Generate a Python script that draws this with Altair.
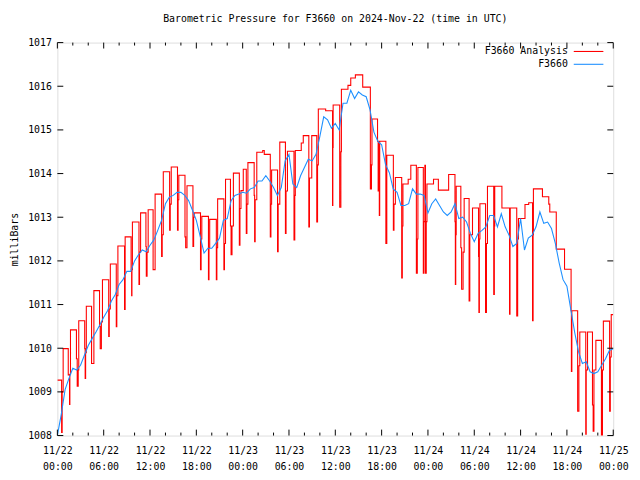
import altair as alt
import pandas as pd

# ---- data (hours since 2024-11-22 00:00 UTC, millibars) ----
red_t = [0, 0.55, 0.62, 0.75, 1.41, 1.58, 1.62, 1.70, 2.47, 2.57, 2.70, 2.77,
         3.54, 3.60, 3.66, 3.75, 4.43, 4.73, 5.46, 5.55, 5.70, 5.84, 6.65, 6.72,
         6.86, 7.63, 7.70, 7.84, 8.70, 8.78, 9.55, 9.62, 9.66, 9.72, 10.57, 10.64,
         10.78, 11.47, 11.52, 11.62, 11.76, 12.40, 12.66, 13.50, 13.58, 13.72, 14.54, 14.62,
         14.75, 15.56, 15.64, 15.73, 16.53, 16.62, 16.79, 17.56, 17.65, 17.73, 18.54, 18.62,
         18.71, 19.57, 19.64, 19.73, 20.59, 20.66, 20.76, 21.57, 21.64, 21.78, 22.42, 22.50,
         22.62, 22.80, 23.57, 23.65, 23.78, 24.08, 24.47, 24.55, 24.68, 25.49, 25.55, 25.62,
         25.83, 26.60, 26.80, 27.58, 27.66, 27.75, 28.52, 28.60, 28.81, 29.54, 29.62, 29.80,
         30.65, 30.75, 30.82, 31.59, 31.85, 32.57, 32.65, 32.95, 33.60, 33.70, 33.80, 34.75,
         35.64, 35.68, 35.72, 36.57, 36.72, 36.79, 37.64, 38.00, 38.60, 39.55, 40.54, 40.68,
         40.75, 41.47, 41.55, 41.60, 41.70, 41.75, 42.55, 42.67, 43.52, 43.60, 43.78, 44.60,
         44.68, 44.76, 45.44, 45.78, 46.50, 46.62, 46.70, 47.40, 47.48, 47.60, 47.68, 47.78,
         47.87, 48.72, 49.35, 50.68, 51.50, 51.55, 51.60, 51.66, 52.26, 52.36, 52.55, 52.69,
         53.33, 53.42, 53.77, 54.55, 54.60, 54.66, 54.73, 55.46, 55.58, 55.71, 56.52, 56.60,
         56.65, 57.58, 58.57, 58.63, 58.66, 59.50, 59.62, 59.72, 60.57, 61.05, 61.55, 61.62,
         61.66, 62.83, 63.65, 63.78, 64.62, 65.69, 66.54, 66.58, 66.64, 67.39, 67.55, 67.67,
         68.44, 68.50, 68.67, 69.31, 69.40, 69.50, 69.75, 70.47, 70.60, 70.72, 71.53, 71.62,
         71.74, 72.0]
red_v = [1009.27, 1008.07, 1009.00, 1009.99, 1009.39, 1008.71, 1009.40, 1010.42, 1009.76, 1009.13, 1009.50, 1010.63,
         1009.99, 1009.31, 1009.90, 1010.96, 1009.65, 1011.32, 1010.50, 1009.99, 1010.60, 1011.57, 1010.27, 1010.90,
         1011.93, 1010.49, 1011.20, 1012.34, 1010.89, 1012.55, 1011.80, 1011.20, 1011.80, 1012.89, 1011.46, 1012.20,
         1013.10, 1012.33, 1011.65, 1012.20, 1013.17, 1011.80, 1013.53, 1012.10, 1012.60, 1014.04, 1012.70, 1013.30,
         1014.15, 1012.70, 1013.40, 1013.96, 1012.55, 1012.30, 1013.72, 1012.33, 1013.00, 1013.10, 1011.80, 1012.50,
         1013.02, 1011.57, 1012.30, 1012.95, 1011.57, 1012.30, 1013.42, 1011.80, 1012.40, 1013.87, 1012.80, 1012.14,
         1012.80, 1014.01, 1012.36, 1013.20, 1013.61, 1014.10, 1012.63, 1013.30, 1014.25, 1013.50, 1012.44, 1013.40,
         1014.49, 1014.53, 1014.44, 1012.55, 1013.30, 1014.08, 1012.21, 1013.30, 1014.72, 1012.63, 1013.60, 1014.51,
         1012.48, 1013.50, 1014.53, 1014.70, 1014.87, 1012.78, 1013.90, 1014.87, 1012.89, 1014.20, 1015.48, 1015.44,
         1013.27, 1014.60, 1015.57, 1013.23, 1014.50, 1015.93, 1016.02, 1016.19, 1016.26, 1015.98, 1013.65, 1014.20,
         1015.25, 1014.74, 1013.60, 1014.74, 1013.04, 1014.74, 1012.40, 1014.42, 1012.70, 1013.30, 1013.91, 1011.61,
         1012.80, 1013.76, 1013.87, 1014.19, 1011.72, 1012.50, 1014.14, 1011.72, 1012.90, 1014.19, 1011.72, 1012.90,
         1013.76, 1013.87, 1013.62, 1013.98, 1012.90, 1011.46, 1012.60, 1013.71, 1012.30, 1011.35, 1012.20, 1013.43,
         1011.08, 1012.60, 1013.21, 1012.10, 1010.82, 1012.50, 1013.31, 1010.82, 1012.40, 1013.71, 1011.23, 1012.80,
         1013.71, 1013.21, 1010.78, 1012.50, 1013.21, 1010.74, 1012.50, 1012.97, 1013.29, 1013.33, 1010.63, 1012.60,
         1013.65, 1013.47, 1013.30, 1013.12, 1012.27, 1011.81, 1010.86, 1009.47, 1010.86, 1008.56, 1009.60, 1010.37,
         1008.03, 1009.50, 1010.37, 1008.70, 1008.10, 1009.50, 1010.18, 1008.00, 1009.50, 1010.62, 1008.56, 1009.80,
         1010.77, 1010.77]

# station observations, every half hour from 11/22 00:00 to 11/25 00:00
blue_v = [1008.00, 1008.48, 1009.05, 1009.31, 1009.54, 1009.50, 1009.61, 1009.84, 1010.06, 1010.22,
          1010.37, 1010.53, 1010.71, 1010.86, 1011.08, 1011.23, 1011.46, 1011.57, 1011.76, 1011.76,
          1012.00, 1012.14, 1012.25, 1012.21, 1012.36, 1012.48, 1012.70, 1012.93, 1013.31, 1013.46,
          1013.50, 1013.57, 1013.57, 1013.50, 1013.38, 1013.16, 1012.93, 1012.56, 1012.18, 1012.29,
          1012.29, 1012.40, 1012.52, 1012.93, 1012.97, 1013.38, 1013.50, 1013.53, 1013.57, 1013.55,
          1013.65, 1013.68, 1013.83, 1013.83, 1013.95, 1013.83, 1013.68, 1013.50, 1013.68, 1014.29,
          1014.44, 1013.76, 1013.68, 1013.95, 1014.14, 1014.33, 1014.29, 1014.44, 1014.85, 1015.30,
          1015.23, 1015.04, 1015.15, 1015.00, 1015.61, 1015.61, 1015.91, 1015.72, 1015.87, 1015.80,
          1015.76, 1015.46, 1014.95, 1014.74, 1014.66, 1014.21, 1014.02, 1013.65, 1013.57, 1013.27,
          1013.27, 1013.31, 1013.65, 1013.53, 1013.53, 1013.50, 1013.10, 1013.31, 1013.42, 1013.27,
          1013.12, 1013.04, 1013.12, 1013.31, 1012.97, 1013.00, 1012.89, 1012.63, 1012.44, 1012.63,
          1012.70, 1012.78, 1013.04, 1013.04, 1012.78, 1013.08, 1012.78, 1012.59, 1012.33, 1012.40,
          1012.97, 1012.25, 1012.52, 1012.59, 1012.78, 1013.12, 1012.86, 1012.89, 1012.74, 1012.40,
          1011.95, 1011.57, 1011.42, 1010.89, 1010.37, 1009.92, 1009.65, 1009.69, 1009.46, 1009.42,
          1009.46, 1009.61, 1009.76, 1009.95, 1009.99]
blue_t = [0.5 * i for i in range(len(blue_v))]

x_major = [0, 6, 12, 18, 24, 30, 36, 42, 48, 54, 60, 66, 72]
x_minor = [2, 4, 8, 10, 14, 16, 20, 22, 26, 28, 32, 34, 38, 40, 44, 46, 50, 52, 56, 58, 62, 64, 68, 70]
y_ticks = [1008, 1009, 1010, 1011, 1012, 1013, 1014, 1015, 1016, 1017]

series_names = ["F3660 Analysis", "F3660"]
series_colors = ["#ff0000", "#1e90ff"]

# ---- chart ----
FONT = "DejaVu Sans Mono"
W, H = 563, 398

red_df = pd.DataFrame({"h": red_t, "p": red_v})
blue_df = pd.DataFrame({"h": blue_t, "p": blue_v})

xs = alt.Scale(domain=[0, 72], nice=False, zero=False)
ys = alt.Scale(domain=[1008, 1017], nice=False, zero=False)

label_expr = ("['11/' + (22 + floor(datum.value / 24)), "
              "((datum.value % 24) < 10 ? '0' : '') + (datum.value % 24) + ':00']")

x_axis = alt.Axis(values=x_major, labelExpr=label_expr, title=None, ticks=False, domain=False,
                  grid=False, labelFont=FONT, labelFontSize=10, labelColor="black",
                  labelPadding=10, labelLineHeight=16, labelBaseline="top",
                  labelOverlap=False, labelFlush=False)
y_axis = alt.Axis(values=y_ticks, format="d", title="milliBars", ticks=False, domain=False,
                  grid=False, labelFont=FONT, labelFontSize=10, labelColor="black",
                  labelPadding=6, titleFont=FONT, titleFontSize=10, titleFontWeight="normal",
                  titleColor="black", titlePadding=8, labelOverlap=False, labelFlush=False)

XE = alt.X("h:Q", scale=xs, axis=x_axis)
YE = alt.Y("p:Q", scale=ys, axis=y_axis)

red_line = alt.Chart(red_df).mark_line(
    interpolate="step-after", color=series_colors[0], strokeWidth=1.1, clip=True
).encode(x=XE, y=YE)

blue_line = alt.Chart(blue_df).mark_line(
    color=series_colors[1], strokeWidth=1.1, clip=True
).encode(x=XE, y=YE)

xmaj_df = pd.DataFrame({"h": x_major})
xmin_df = pd.DataFrame({"h": x_minor})
y_df = pd.DataFrame({"p": y_ticks})

def xticks(df, length):
    bottom = alt.Chart(df).mark_rule(color="black", strokeWidth=1).encode(
        x=XE, y=alt.value(H), y2=alt.value(H - length))
    top = alt.Chart(df).mark_rule(color="black", strokeWidth=1).encode(
        x=XE, y=alt.value(0), y2=alt.value(length))
    return [bottom, top]

yl = alt.Chart(y_df).mark_rule(color="black", strokeWidth=1).encode(
    y=YE, x=alt.value(0), x2=alt.value(6))
yr = alt.Chart(y_df).mark_rule(color="black", strokeWidth=1).encode(
    y=YE, x=alt.value(W), x2=alt.value(W - 6))

leg_layers = []
for i, (name, col) in enumerate(zip(series_names, series_colors)):
    d = pd.DataFrame({"name": [name]})
    yy = 9 + 13 * i
    leg_layers.append(alt.Chart(d).mark_text(
        align="right", baseline="middle", font=FONT, fontSize=10, color="black"
    ).encode(text="name:N", x=alt.value(517), y=alt.value(yy)))
    leg_layers.append(alt.Chart(d).mark_rule(color=col, strokeWidth=1.1).encode(
        x=alt.value(523), x2=alt.value(553), y=alt.value(yy)))

chart = alt.layer(
    red_line, blue_line, *xticks(xmaj_df, 6), *xticks(xmin_df, 3), yl, yr, *leg_layers
).properties(
    width=W, height=H,
    title=alt.TitleParams("Barometric Pressure for F3660 on 2024-Nov-22 (time in UTC)",
                          font=FONT, fontSize=10, fontWeight="normal", color="black",
                          anchor="middle", frame="group", offset=14),
    autosize=alt.AutoSizeParams(type="none"),
    padding={"left": 50, "top": 32, "right": 19, "bottom": 42},
).configure_view(stroke="black", strokeWidth=1).configure(background="white")

chart.save("out.html", embed_options={"renderer": "svg", "actions": False})
